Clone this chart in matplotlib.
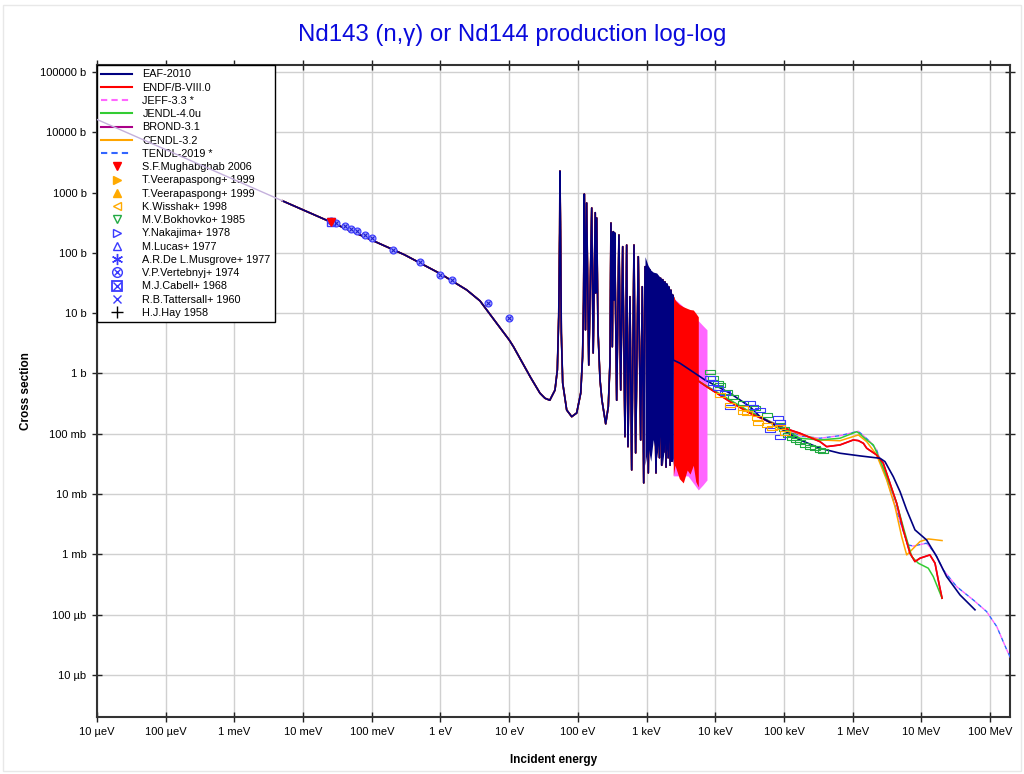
import numpy as np
import matplotlib
matplotlib.use("Agg")
import matplotlib.pyplot as plt
from matplotlib.lines import Line2D
from matplotlib.patches import Rectangle
from matplotlib.legend_handler import HandlerTuple

plt.rcParams['font.family'] = ['Liberation Sans', 'DejaVu Sans']

# ---------------- axis ticks ----------------
x_ticks = [1e-5, 1e-4, 1e-3, 1e-2, 1e-1, 1e0, 1e1, 1e2, 1e3, 1e4, 1e5, 1e6, 1e7, 1e8]
x_tick_labels = ["10 µeV", "100 µeV", "1 meV", "10 meV", "100 meV", "1 eV", "10 eV",
                 "100 eV", "1 keV", "10 keV", "100 keV", "1 MeV", "10 MeV", "100 MeV"]
y_ticks = [1e5, 1e4, 1e3, 1e2, 1e1, 1e0, 1e-1, 1e-2, 1e-3, 1e-4, 1e-5]
y_tick_labels = ["100000 b", "10000 b", "1000 b", "100 b", "10 b", "1 b", "100 mb",
                 "10 mb", "1 mb", "100 µb", "10 µb"]

# ---------------- shared thermal + resolved resonance region (eV, b) ----------------
lowest_E = [1e-5, 5e-3]
lowest_sig = [16350, 731]

common_E = [5e-3, 0.0253, 0.1, 0.3, 1.0, 2.41, 3.76, 6.58, 10, 11.5, 20.6, 28.1, 33.2, 39,
            46.4, 50.2, 52.6, 54.3, 54.8, 56.2, 57.4, 60.1, 68.7, 81.3, 96.1, 110, 117, 121,
            124, 129, 134, 144, 159, 167, 179, 182, 188, 196, 210, 224, 254, 277, 293, 303,
            317, 328, 336, 343, 367, 396, 420, 449, 485, 513, 536, 573, 607, 656, 693, 757,
            820, 865, 908, 948]
common_sig = [731, 325, 163, 93, 45, 24.3, 16, 6.8, 3.6, 2.8, 0.85, 0.47, 0.388, 0.36,
              0.53, 1.14, 8.7, 214, 2280, 112, 4.7, 0.695, 0.248, 0.192, 0.221, 0.475, 1.9, 16.6,
              948, 5.3, 673, 1.38, 556, 2.19, 465, 21.6, 379, 5.3, 0.78, 0.36, 0.146, 0.281, 1.49, 313,
              2.78, 225, 16.6, 214, 0.36, 198, 0.532, 127, 0.0895, 135, 0.0611, 18.8, 0.0251, 135, 0.0481, 86.5,
              0.0789, 27.5, 0.0153, 59]

forest_E = [980, 1059, 1120, 1186, 1253, 1371, 1479, 1540, 1600, 1660, 1720, 1790, 1850,
            1920, 1990, 2060, 2130, 2200, 2270, 2340, 2400]
forest_sig = [59, 0.0224, 52, 0.116, 35.6, 0.0224, 40.3, 0.04, 38, 0.03, 36, 0.05, 33,
              0.028, 30, 0.04, 27, 0.03, 24, 0.035, 20]

# dense (unresolvable) resonance bands
eaf_band_E = [948, 1050, 1150, 1250, 1403, 1550, 1700, 1850, 1963, 2200, 2449]
eaf_band_top = [86.5, 62, 52, 48, 46.4, 40, 36, 33, 31.7, 25, 18.8]
eaf_band_bot = [0.03, 0.06, 0.035, 0.08, 0.04, 0.09, 0.03, 0.07, 0.05, 0.09, 0.03]

endf_band_E = [2449, 2590, 3000, 3420, 3900, 4285, 4786, 5200, 5660]
endf_band_top = [18.8, 16.6, 14, 12.8, 12, 11.5, 11.3, 10, 8.7]
endf_band_bot = [0.02, 0.03, 0.018, 0.0153, 0.025, 0.0214, 0.03, 0.016, 0.0131]

jeff_band_E = [2449, 4000, 5660, 6620, 7570]
jeff_band_top = [18, 11, 7.5, 6.2, 5.3]
jeff_band_bot = [0.02, 0.02, 0.0117, 0.0142, 0.0171]

# ---------------- smooth (unresolved + fast) parts ----------------
eaf_fast_E = [2449, 3060, 7080, 16400, 32000, 44800, 87500, 171000, 334000, 653000, 1.28e6,
              2.50e6, 2.95e6, 3.90e6, 4.89e6, 6.11e6, 8.07e6, 1.19e7, 1.67e7, 2.33e7, 3.65e7, 6.03e7]
eaf_fast_sig = [1.67, 1.48, 0.78, 0.47, 0.281, 0.192, 0.123, 0.0789, 0.0575, 0.0475, 0.0429,
                0.0392, 0.0345, 0.0194, 0.01096, 0.00545, 0.00254, 0.00173, 0.000916, 0.000427,
                0.000212, 0.000120]

endf_fast_E = [5660, 7500, 16400, 32000, 87500, 171000, 334000, 418000, 653000, 1.02e6, 1.21e6,
               1.43e6, 1.60e6, 2.23e6, 2.79e6, 3.49e6, 4.37e6, 5.45e6, 6.83e6, 8.07e6, 9.55e6,
               1.33e7, 1.58e7, 1.76e7, 2.0e7]
endf_fast_sig = [0.751, 0.604, 0.340, 0.219, 0.131, 0.102, 0.0740, 0.0611, 0.0652, 0.0789, 0.0769,
                 0.0695, 0.0575, 0.0445, 0.0324, 0.0151, 0.00703, 0.00254, 0.00104, 0.000757,
                 0.000861, 0.000977, 0.000712, 0.000376, 0.000187]

jendl_fast_E = [5660, 9350, 28700, 87500, 171000, 334000, 653000, 1.14e6, 1.21e6, 1.60e6, 2.00e6,
                2.50e6, 3.49e6, 4.37e6, 5.77e6, 7.23e6, 9.02e6, 1.26e7, 1.49e7, 2.0e7]
jendl_fast_sig = [0.75, 0.532, 0.248, 0.131, 0.0842, 0.0789, 0.0842, 0.108, 0.104, 0.0789, 0.0652,
                  0.0368, 0.0142, 0.00703, 0.00224, 0.000916, 0.000712, 0.000588, 0.000427, 0.000187]

cendl_fast_E = [5660, 7500, 16400, 32000, 87500, 171000, 334000, 653000, 1.21e6, 1.60e6, 2.23e6,
                3.13e6, 4.13e6, 5.16e6, 6.11e6, 7.23e6, 9.55e6, 1.26e7, 2.0e7]
cendl_fast_sig = [0.75, 0.60, 0.35, 0.225, 0.133, 0.098, 0.0789, 0.0765, 0.0955, 0.0740, 0.0445,
                  0.0171, 0.00618, 0.00197, 0.000977, 0.00118, 0.00163, 0.00180, 0.00169]

jeff_fast_E = [7570, 16400, 32000, 87500, 171000, 334000, 653000, 1.21e6, 1.79e6, 2.23e6, 2.95e6,
               3.90e6, 5.16e6, 6.44e6, 7.62e6, 1.19e7, 1.58e7, 2.08e7, 3.26e7, 5.69e7, 8.92e7,
               1.25e8, 1.75e8, 2.0e8]
jeff_fast_sig = [0.62, 0.36, 0.23, 0.135, 0.092, 0.0842, 0.093, 0.11, 0.0740, 0.0539, 0.0221,
                 0.00798, 0.00288, 0.00143, 0.00137, 0.00153, 0.00104, 0.000551, 0.000291,
                 0.000175, 0.000112, 6.33e-5, 2.60e-5, 1.89e-5]

# ---------------- experimental data ----------------
vertebnyj_E = [0.0253, 0.0301, 0.0407, 0.0498, 0.0602, 0.0796, 0.0995, 0.201, 0.504, 0.993, 1.49, 4.97, 9.93]
vertebnyj_sig = [342, 317, 279, 249, 228, 198, 175, 112, 70.6, 42.5, 36.0, 14.6, 8.32]
mughabghab_E = [0.0253]
mughabghab_sig = [330]
cabell_E = [0.0253]
cabell_sig = [325]

bokhovko_E = [8370, 9350, 11000, 11700, 14600, 18300, 25600, 37800, 56000, 87500, 100000, 116000,
              130000, 150000, 171000, 200000, 239000, 280000, 334000, 370000]
bokhovko_sig = [1.07, 0.832, 0.687, 0.644, 0.499, 0.412, 0.321, 0.265, 0.205, 0.14, 0.12, 0.0955,
                0.085, 0.079, 0.072, 0.066, 0.061, 0.057, 0.054, 0.0525]
nakajima_E = [8370, 9350, 11000, 13800, 16400, 32000, 35700, 44800, 82600, 87500, 62500, 87500]
nakajima_sig = [0.832, 0.687, 0.569, 0.470, 0.281, 0.321, 0.281, 0.248, 0.181, 0.159, 0.116, 0.0875]
wisshak_E = [11700, 16400, 25600, 25600, 28700, 40000, 42300, 56000, 66200, 87500, 103000]
wisshak_sig = [0.440, 0.301, 0.265, 0.233, 0.219, 0.181, 0.149, 0.140, 0.123, 0.131, 0.102]

# ---------------- styles ----------------
C_EAF = '#000080'
C_ENDF = '#ff0000'
C_JEFF = '#ff66ff'
C_JENDL = '#33cc33'
C_BROND = '#aa0088'
C_CENDL = '#ffa500'
C_TENDL = '#3366ff'
C_BLUE = '#3a3aff'
C_GREEN = '#22aa44'
C_ORANGE = '#ffaa00'

fig = plt.figure(figsize=(10.24, 7.74), dpi=100)
ax = fig.add_axes([97 / 1024, 57 / 774, 913 / 1024, 652 / 774])
ax.set_xscale('log')
ax.set_yscale('log')


def cat(*parts):
    out = []
    for p in parts:
        out.extend(p)
    return out


res_E = cat(common_E, forest_E)
res_sig = cat(common_sig, forest_sig)

# JEFF / TENDL (alternating dashes so the pair reads as one violet line)
ax.plot(cat(res_E, jeff_fast_E), cat(res_sig, jeff_fast_sig),
        color=C_TENDL, lw=1.0, ls=(0, (3, 3)), zorder=3)
ax.plot(cat(res_E, jeff_fast_E), cat(res_sig, jeff_fast_sig),
        color=C_JEFF, lw=1.0, ls=(3, (3, 3)), zorder=3.1)
ax.fill_between(jeff_band_E, jeff_band_bot, jeff_band_top, color=C_JEFF, lw=0, zorder=3.5)
# lowest-energy part of JEFF/TENDL drawn above everything (as in the original)
ax.plot(lowest_E, lowest_sig, color='#c4b0dc', lw=1.0, zorder=25)

ax.plot(cat(res_E, cendl_fast_E), cat(res_sig, cendl_fast_sig), color=C_CENDL, lw=1.1, zorder=4)
ax.plot(cat(res_E, endf_fast_E), cat(res_sig, endf_fast_sig), color=C_BROND, lw=1.1, zorder=4.2)
ax.plot(cat(res_E, jendl_fast_E), cat(res_sig, jendl_fast_sig), color=C_JENDL, lw=1.1, zorder=4.5)
ax.fill_between(endf_band_E, endf_band_bot, endf_band_top, color=C_ENDF, lw=0, zorder=5)
ax.plot(cat(res_E, endf_fast_E), cat(res_sig, endf_fast_sig), color=C_ENDF, lw=1.2, zorder=5.5)

# EAF on top
ax.fill_between(eaf_band_E, eaf_band_bot, eaf_band_top, color=C_EAF, lw=0, zorder=8)
ax.plot(cat(res_E, eaf_fast_E), cat(res_sig, eaf_fast_sig), color=C_EAF, lw=1.2, zorder=9)

# experimental points
box = [(-1.0, -0.5), (1.0, -0.5), (1.0, 0.5), (-1.0, 0.5), (-1.0, -0.5)]
ax.plot(bokhovko_E, bokhovko_sig, ls='none', marker=box, ms=6.5, mfc='none', mec=C_GREEN, mew=0.8, zorder=10)
ax.plot(nakajima_E, nakajima_sig, ls='none', marker=box, ms=6.5, mfc='none', mec=C_BLUE, mew=0.8, zorder=10)
ax.plot(wisshak_E, wisshak_sig, ls='none', marker=box, ms=6.5, mfc='none', mec=C_ORANGE, mew=0.8, zorder=10)
ax.plot(vertebnyj_E, vertebnyj_sig, ls='none', marker='o', ms=5, mfc='#a0a0ff', mec=C_BLUE,
        mew=0.8, zorder=10)
ax.plot(vertebnyj_E, vertebnyj_sig, ls='none', marker='x', ms=3.2, mec='#2020d0', mew=0.8, zorder=10.1)
ax.plot(cabell_E, cabell_sig, ls='none', marker='s', ms=5.5, mfc='none', mec=C_BLUE, mew=1.0, zorder=10)
ax.plot(mughabghab_E, mughabghab_sig, ls='none', marker='v', ms=5.5, color='#ff0000', zorder=10.5)

# axes formatting
ax.set_xlim(1e-5, 1.95e8)
ax.set_ylim(2.0e-6, 1.31e5)
ax.set_xticks(x_ticks)
ax.set_xticklabels(x_tick_labels)
ax.set_yticks(y_ticks)
ax.set_yticklabels(y_tick_labels)
ax.minorticks_off()
ax.grid(True, which='major', color='#d0d0d0', lw=1.0)
ax.set_axisbelow(True)
ax.tick_params(axis='both', which='major', direction='inout', length=7, width=1,
               labelsize=8, color='#222222', top=True, right=True, pad=4)
for s in ax.spines.values():
    s.set_linewidth(1.5)
    s.set_color('#333333')

ax.set_xlabel('Incident energy', fontsize=8.5, fontweight='bold', labelpad=12)
ax.set_ylabel('Cross section', fontsize=8.5, fontweight='bold', labelpad=6)
fig.text(0.5, 1 - 35 / 774, 'Nd143 (n,γ) or Nd144 production log-log', ha='center', va='center',
         fontsize=17.3, color='#0a0adc')

# legend
lg = dict(ls='none')
handles = [
    Line2D([], [], color=C_EAF, lw=1.5),
    Line2D([], [], color=C_ENDF, lw=1.5),
    Line2D([], [], color=C_JEFF, lw=1.5, dashes=(3, 2)),
    Line2D([], [], color=C_JENDL, lw=1.5),
    Line2D([], [], color=C_BROND, lw=1.5),
    Line2D([], [], color=C_CENDL, lw=1.5),
    Line2D([], [], color=C_TENDL, lw=1.5, dashes=(3, 2)),
    Line2D([], [], marker='v', ms=6, color='#ff0000', **lg),
    Line2D([], [], marker='>', ms=6, color=C_ORANGE, **lg),
    Line2D([], [], marker='^', ms=6, color=C_ORANGE, **lg),
    Line2D([], [], marker='<', ms=6, mfc='none', mec=C_ORANGE, **lg),
    Line2D([], [], marker='v', ms=6, mfc='none', mec=C_GREEN, **lg),
    Line2D([], [], marker='>', ms=6, mfc='none', mec=C_BLUE, **lg),
    Line2D([], [], marker='^', ms=6, mfc='none', mec=C_BLUE, **lg),
    Line2D([], [], marker=(6, 2, 0), ms=8, mec=C_BLUE, mew=1.0, **lg),
    (Line2D([], [], marker='o', ms=7, mfc='none', mec=C_BLUE, **lg),
     Line2D([], [], marker='x', ms=5, mec=C_BLUE, **lg)),
    (Line2D([], [], marker='s', ms=7, mfc='none', mec=C_BLUE, mew=1.3, **lg),
     Line2D([], [], marker='x', ms=6, mec=C_BLUE, **lg)),
    Line2D([], [], marker='x', ms=6, mec=C_BLUE, **lg),
    Line2D([], [], marker='+', ms=8, mec='#000000', **lg),
]
labels = ["EAF-2010", "ENDF/B-VIII.0", "JEFF-3.3 *", "JENDL-4.0u", "BROND-3.1", "CENDL-3.2",
          "TENDL-2019 *", "S.F.Mughabghab 2006", "T.Veerapaspong+ 1999", "T.Veerapaspong+ 1999",
          "K.Wisshak+ 1998", "M.V.Bokhovko+ 1985", "Y.Nakajima+ 1978", "M.Lucas+ 1977",
          "A.R.De L.Musgrove+ 1977", "V.P.Vertebnyj+ 1974", "M.J.Cabell+ 1968",
          "R.B.Tattersall+ 1960", "H.J.Hay 1958"]
leg = ax.legend(handles, labels, loc='upper left', bbox_to_anchor=(0, 1), borderaxespad=0,
                fontsize=7.8, labelspacing=0.30, handlelength=2.8, handletextpad=1.0,
                borderpad=0.4, fancybox=False, framealpha=1, edgecolor='#000000',
                handler_map={tuple: HandlerTuple(ndivide=1)})
leg.get_frame().set_linewidth(1.0)
leg.set_zorder(20)

fig.patches.append(Rectangle((0.003, 0.004), 0.994, 0.99, transform=fig.transFigure, fill=False,
                             edgecolor='#e8e8e8', lw=1.0))

fig.savefig('out.png', dpi=100)
